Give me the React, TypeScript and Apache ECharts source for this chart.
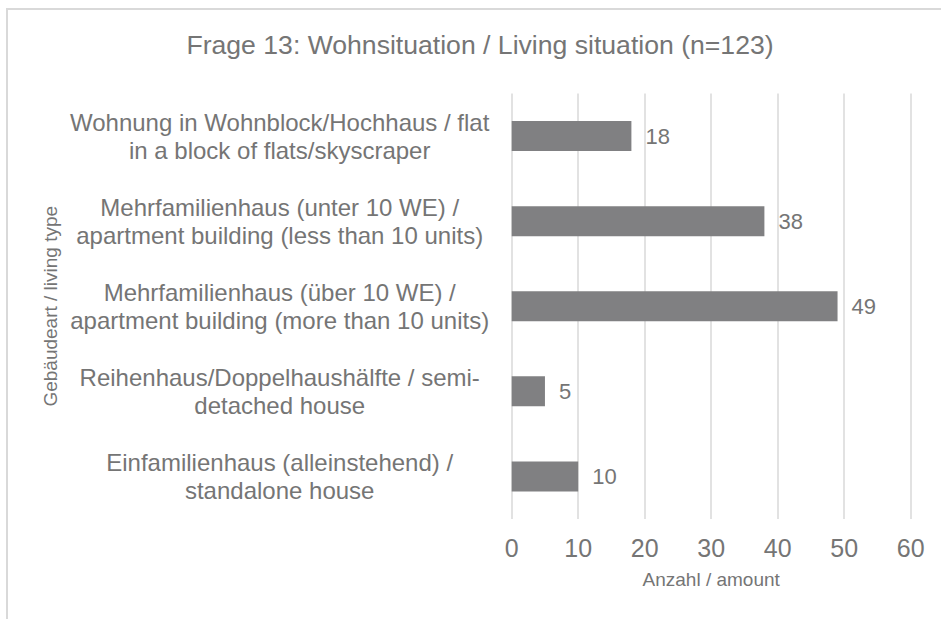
import React, { useEffect, useRef } from "react";
import * as echarts from "echarts";

const titleText = "Frage 13: Wohnsituation / Living situation (n=123)";
const categories = [
  "Wohnung in Wohnblock/Hochhaus / flat\nin a block of flats/skyscraper",
  "Mehrfamilienhaus (unter 10 WE) /\napartment building (less than 10 units)",
  "Mehrfamilienhaus (über 10 WE) /\napartment building (more than 10 units)",
  "Reihenhaus/Doppelhaushälfte / semi-\ndetached house",
  "Einfamilienhaus (alleinstehend) /\nstandalone house",
];
const values = [18, 38, 49, 5, 10];
const xAxisName = "Anzahl / amount";
const yAxisName = "Gebäudeart / living type";

const FONT = "'Liberation Sans', Arial, sans-serif";
const TEXT = "#757575";

export default function App() {
  const ref = useRef<HTMLDivElement>(null);
  useEffect(() => {
    const chart = echarts.init(ref.current!, undefined, { renderer: "svg" });
    chart.setOption({
      animation: false,
      backgroundColor: "#ffffff",
      textStyle: { fontFamily: FONT },
      title: {
        text: titleText,
        left: 475,
        top: 26,
        textAlign: "center",
        textStyle: { fontFamily: FONT, fontSize: 26.6, fontWeight: "normal", color: TEXT },
      },
      graphic: [
        {
          type: "rect",
          shape: { x: 7, y: 9, width: 1200, height: 1200 },
          style: { fill: "none", stroke: "#d9d9d9", lineWidth: 2 },
          silent: true,
        },
      ],
      grid: { left: 511.7, right: 30.3, top: 93.5, bottom: 100 },
      xAxis: {
        type: "value",
        min: 0,
        max: 60,
        interval: 10,
        name: xAxisName,
        nameLocation: "middle",
        nameGap: 51,
        nameTextStyle: { fontFamily: FONT, fontSize: 19, color: TEXT },
        axisLine: { show: false },
        axisTick: { show: false },
        axisLabel: { fontFamily: FONT, fontSize: 25, color: TEXT, margin: 16 },
        splitLine: { show: true, lineStyle: { color: "#d9d9d9", width: 1.5 } },
      },
      yAxis: {
        type: "category",
        inverse: true,
        data: categories,
        name: yAxisName,
        nameLocation: "middle",
        nameRotate: 90,
        nameGap: 452,
        nameTextStyle: { fontFamily: FONT, fontSize: 19, color: TEXT },
        axisLine: { show: false },
        axisTick: { show: false },
        axisLabel: {
          fontFamily: FONT,
          fontSize: 24,
          lineHeight: 28,
          color: TEXT,
          align: "center",
          margin: 232,
        },
        splitLine: { show: false },
      },
      series: [
        {
          type: "bar",
          data: values,
          barWidth: 30,
          itemStyle: { color: "#808082" },
          label: {
            show: true,
            position: "right",
            distance: 14,
            fontFamily: FONT,
            fontSize: 22,
            color: TEXT,
          },
        },
      ],
    });
    return () => chart.dispose();
  }, []);
  return (
    <div
      ref={ref}
      style={{ position: "fixed", left: 0, top: 0, width: 941, height: 619 }}
    />
  );
}
